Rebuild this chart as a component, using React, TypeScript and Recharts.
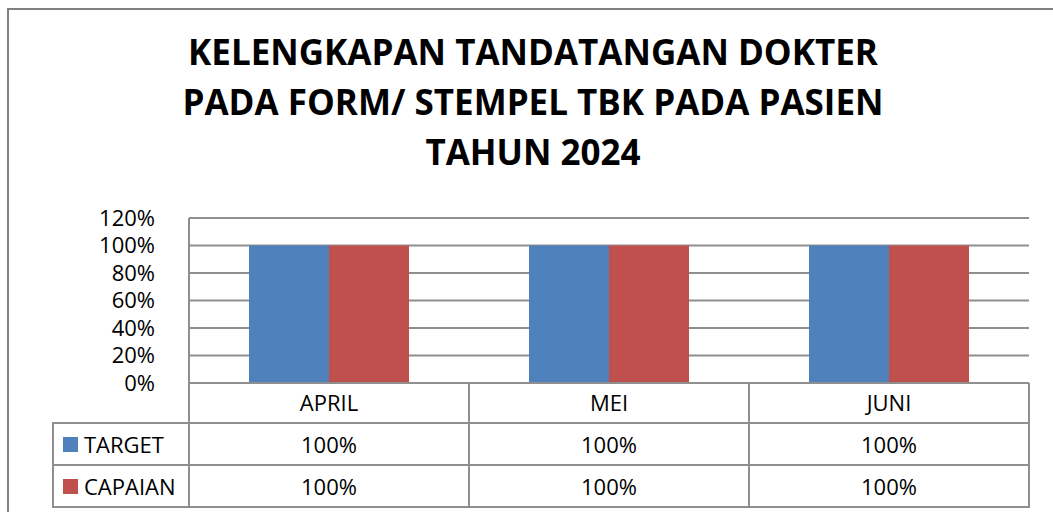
import { BarChart, Bar, XAxis, YAxis, CartesianGrid } from 'recharts'

const months = ['APRIL', 'MEI', 'JUNI']
const target = [1, 1, 1]
const capaian = [1, 1, 1]
const yTicks = [0, 0.2, 0.4, 0.6, 0.8, 1, 1.2]
const seriesNames = ['TARGET', 'CAPAIAN']
const titleLines = [
  'KELENGKAPAN TANDATANGAN DOKTER',
  'PADA FORM/ STEMPEL TBK PADA PASIEN',
  'TAHUN 2024',
]

const BLUE = '#4F81BD'
const RED = '#C0504D'
const LINE = '#8f8f8f'
const FONT = '"Open Sans", sans-serif'

const data = months.map((m, i) => ({ month: m, target: target[i], capaian: capaian[i] }))
const pct = (v: number) => `${Math.round(v * 100)}%`

const YTick = ({ x, y, payload }: any) => (
  <text x={x - 26} y={y} dy="0.36em" textAnchor="end" fontSize={22} fontFamily={FONT} fill="#000">
    {pct(payload.value)}
  </text>
)

// month label + the data table cells under each category
const XTick = ({ x, payload }: any) => {
  const i = payload.index
  return (
    <g fontSize={22} fontFamily={FONT} fill="#000" textAnchor="middle">
      <text x={x} y={403} dy="0.36em">{payload.value}</text>
      <text x={x} y={445} dy="0.36em">{pct(target[i])}</text>
      <text x={x} y={487} dy="0.36em">{pct(capaian[i])}</text>
    </g>
  )
}

export default function App() {
  const cols = [189, 469, 749, 1029]
  return (
    <div style={{ position: 'absolute', left: 0, top: 0, width: 1053, height: 512, background: '#fff' }}>
      <BarChart
        width={1053}
        height={512}
        data={data}
        margin={{ top: 218, right: 24, bottom: 89, left: 109 }}
        barCategoryGap="21.43%"
        barGap={0}
      >
        <CartesianGrid vertical={false} stroke={LINE} strokeWidth={2} />
        <XAxis
          dataKey="month"
          height={40}
          tickLine={false}
          axisLine={{ stroke: LINE, strokeWidth: 2 }}
          tick={<XTick />}
          interval={0}
        />
        <YAxis
          width={80}
          domain={[0, 1.2]}
          ticks={yTicks}
          tickLine={false}
          axisLine={{ stroke: LINE, strokeWidth: 2 }}
          tick={<YTick />}
          interval={0}
        />
        <Bar dataKey="target" fill={BLUE} isAnimationActive={false} />
        <Bar dataKey="capaian" fill={RED} isAnimationActive={false} />
      </BarChart>

      <svg width={1053} height={512} style={{ position: 'absolute', left: 0, top: 0, pointerEvents: 'none' }}>
        {/* outer chart frame */}
        <path d="M8 512 V9 H1053" fill="none" stroke="#808080" strokeWidth={2} />

        {titleLines.map((t, i) => (
          <text key={t} x={533} y={65 + i * 50} textAnchor="middle" fontSize={35} fontWeight={700} fontFamily={FONT} fill="#000">
            {t}
          </text>
        ))}

        {/* data table grid */}
        <g stroke={LINE} strokeWidth={2}>
          {cols.map((c) => (
            <line key={c} x1={c} y1={383} x2={c} y2={507} />
          ))}
          <line x1={53} y1={423} x2={53} y2={507} />
          {[423, 465, 507].map((y) => (
            <line key={y} x1={52} y1={y} x2={1030} y2={y} />
          ))}
        </g>

        {seriesNames.map((n, i) => (
          <g key={n}>
            <rect x={63} y={437 + i * 42} width={15} height={15} fill={i === 0 ? BLUE : RED} />
            <text x={84} y={445 + i * 42} dy="0.36em" fontSize={22} fontFamily={FONT} fill="#000">
              {n}
            </text>
          </g>
        ))}
      </svg>
    </div>
  )
}
